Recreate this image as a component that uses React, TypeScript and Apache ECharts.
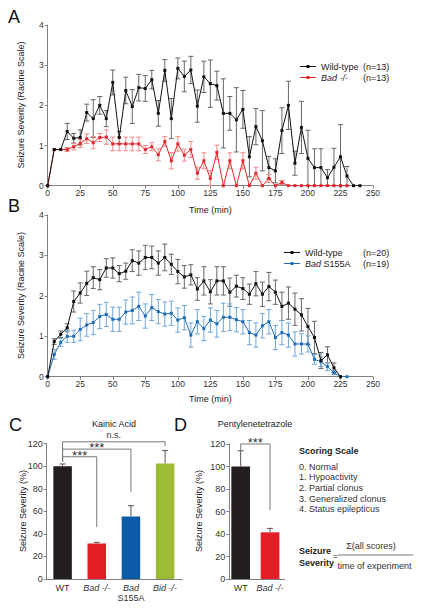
import React, { useEffect, useRef } from "react";
import * as echarts from "echarts";

const FONT = '"Liberation Sans", Arial, Helvetica, sans-serif';

// ---------- Panel A (Kainic acid time course) ----------
const timeA = [0, 5, 10, 15, 20, 25, 30, 35, 40, 45, 50, 55, 60, 65, 70, 75, 80, 85, 90, 95, 100, 105, 110, 115, 120, 125, 130, 135, 140, 145, 150, 155, 160, 165, 170, 175, 180, 185, 190, 195, 200, 205, 210, 215, 220, 225, 230, 235, 240];
const wtA = [0, 0.9, 0.9, 1.35, 1.18, 1.2, 1.82, 1.67, 2.0, 1.67, 2.57, 1.2, 2.37, 1.97, 2.44, 2.42, 2.64, 1.8, 2.87, 1.67, 2.92, 2.72, 2.88, 1.98, 2.71, 2.54, 2.49, 1.8, 1.8, 1.64, 1.9, 0.72, 1.47, 1.12, 0.45, 0.37, 1.37, 2.0, 0.56, 1.45, 0.68, 0.45, 0.45, 0.2, 0.46, 0.72, 0.24, 0, 0];
const wtAErr = [0, 0, 0, 0.2, 0.12, 0.19, 0.21, 0.47, 0.22, 0.2, 0.31, 0.15, 0.33, 0.42, 0.33, 0.32, 0.23, 0.32, 0.27, 0.5, 0.26, 0.38, 0.34, 0.4, 0.39, 0.59, 0.36, 0.86, 0.42, 0.8, 0.47, 0.5, 0.45, 0.75, 0.28, 0.3, 0.57, 0.6, 0.3, 0.65, 0.7, 0.47, 0.47, 0.2, 0.47, 0.8, 0.24, 0, 0];
const badA = [0, 0.9, 0.9, 0.9, 0.97, 1.05, 1.17, 1.07, 1.2, 1.21, 1.04, 1.04, 1.04, 1.04, 1.04, 0.9, 0.97, 0.77, 1.1, 0.62, 1.04, 0.76, 0.9, 0.31, 0.62, 0.18, 0.83, 0, 0.62, 0, 0.62, 0, 0.31, 0, 0.18, 0, 0.08, 0, 0, 0, 0, 0, 0, 0, 0, 0, 0];
const badAErr = [0, 0, 0, 0.05, 0.08, 0.1, 0.12, 0.15, 0.1, 0.18, 0.17, 0.17, 0.17, 0.17, 0.17, 0.1, 0.1, 0.15, 0.12, 0.2, 0.18, 0.15, 0.2, 0.15, 0.2, 0.2, 0.18, 0, 0.2, 0, 0.2, 0, 0.15, 0, 0.1, 0, 0.05, 0, 0, 0, 0, 0, 0, 0, 0, 0, 0];

// ---------- Panel B ----------
const timeB = [0, 5, 10, 15, 20, 25, 30, 35, 40, 45, 50, 55, 60, 65, 70, 75, 80, 85, 90, 95, 100, 105, 110, 115, 120, 125, 130, 135, 140, 145, 150, 155, 160, 165, 170, 175, 180, 185, 190, 195, 200, 205, 210, 215, 220, 225, 230];
const wtB = [0, 0.87, 1.05, 1.21, 1.86, 2.07, 2.31, 2.45, 2.4, 2.69, 2.69, 2.55, 2.61, 2.87, 2.81, 2.95, 2.95, 2.81, 2.95, 2.78, 2.6, 2.47, 2.52, 2.17, 2.37, 2.1, 2.37, 2.37, 2.09, 2.24, 2.18, 2.04, 2.3, 2.04, 2.23, 2.09, 1.74, 1.82, 1.67, 1.53, 1.24, 0.97, 0.4, 0.54, 0.22, 0];
const wtBErr = [0, 0.07, 0.08, 0.1, 0.26, 0.25, 0.3, 0.27, 0.25, 0.23, 0.25, 0.2, 0.2, 0.27, 0.3, 0.3, 0.28, 0.3, 0.33, 0.25, 0.3, 0.28, 0.25, 0.28, 0.35, 0.3, 0.35, 0.35, 0.35, 0.27, 0.27, 0.25, 0.3, 0.3, 0.35, 0.3, 0.35, 0.4, 0.4, 0.4, 0.45, 0.4, 0.2, 0.2, 0.12, 0];
const s155B = [0, 0.55, 0.85, 1.0, 1.0, 1.17, 1.28, 1.34, 1.49, 1.54, 1.42, 1.42, 1.6, 1.64, 1.74, 1.5, 1.71, 1.61, 1.55, 1.57, 1.4, 1.46, 1.03, 1.36, 1.19, 1.4, 1.31, 1.47, 1.47, 1.41, 1.36, 1.09, 1.03, 1.26, 1.36, 0.97, 1.09, 1.03, 0.81, 0.81, 0.81, 0.43, 0.37, 0.25, 0.1, 0, 0];
const s155BErr = [0, 0.12, 0.1, 0.15, 0.15, 0.28, 0.28, 0.3, 0.3, 0.3, 0.3, 0.3, 0.3, 0.33, 0.35, 0.3, 0.32, 0.3, 0.3, 0.3, 0.3, 0.3, 0.3, 0.3, 0.3, 0.3, 0.33, 0.35, 0.33, 0.3, 0.3, 0.3, 0.3, 0.3, 0.3, 0.3, 0.3, 0.3, 0.3, 0.25, 0.2, 0.12, 0.12, 0.1, 0.05, 0, 0];

// ---------- Panel C (Kainic acid, totals) ----------
const kaCats = ["WT", "Bad -/-", "Bad S155A", "Bid -/-"];
const kaValues = [100, 31.5, 55.5, 102.5];
const kaErr = [2, 1, 9.5, 11.5];
const kaColors = ["#231f20", "#e41e26", "#0a5aa8", "#9dbb34"];
// [from, to, bracket level, left end, right end]
const kaBrackets = [
  [0, 3, 121.7, 104, 118],
  [0, 2, 115.2, 104, 77],
  [0, 1, 108.4, 104, 46],
];
const kaBracketLabels = ["n.s.", "***", "***"];

// ---------- Panel D (PTZ) ----------
const ptzCats = ["WT", "Bad -/-"];
const ptzValues = [100, 41.5];
const ptzErr = [14, 3.5];
const ptzColors = ["#231f20", "#e41e26"];
const ptzBrackets = [[0, 1, 120, 114.5, 61]];
const ptzBracketLabels = ["***"];

const scoringScale = ["0. Normal", "1. Hypoactivity", "2. Partial clonus", "3. Generalized clonus", "4. Status epilepticus"];

const AXIS = "#808080";
const LABEL = "#333";
const LEGEND_ICON = "path://M0 3.5H6.5V2.5H9.5V3.5H16V4.5H9.5V5.5H6.5V4.5H0Z";

function errRender(color: string, upperOnly: boolean, cap: number) {
  return (params: any, api: any) => {
    const x = api.value(0);
    const y = api.value(1);
    const e = api.value(2);
    if (!e) return { type: "group", children: [] };
    const top = api.coord([x, y + e]);
    const bot = api.coord([x, upperOnly ? y : Math.max(0, y - e)]);
    const style = { stroke: color, lineWidth: 1 };
    const children: any[] = [
      { type: "line", shape: { x1: top[0], y1: top[1], x2: bot[0], y2: bot[1] }, style },
      { type: "line", shape: { x1: top[0] - cap, y1: top[1], x2: top[0] + cap, y2: top[1] }, style },
    ];
    if (!upperOnly) {
      children.push({ type: "line", shape: { x1: bot[0] - cap, y1: bot[1], x2: bot[0] + cap, y2: bot[1] }, style });
    }
    return { type: "group", children };
  };
}

function bracketRender(labels: string[]) {
  return (params: any, api: any) => {
    const x1 = api.value(0);
    const x2 = api.value(1);
    const lvl = api.value(2);
    const yl = api.value(3);
    const yr = api.value(4);
    const a = api.coord([x1, yl]);
    const b = api.coord([x1, lvl]);
    const c = api.coord([x2, lvl]);
    const d = api.coord([x2, yr]);
    const lab = labels[params.dataIndex];
    const star = lab === "***";
    return {
      type: "group",
      children: [
        {
          type: "polyline",
          shape: { points: [a, b, c, d] },
          style: { stroke: "#777", lineWidth: 1, fill: "none" },
        },
        {
          type: "text",
          style: {
            text: lab,
            x: (b[0] + c[0]) / 2,
            y: star ? b[1] - 1.5 : b[1] - 6.5,
            textAlign: "center",
            textVerticalAlign: "middle",
            fontFamily: FONT,
            fontSize: star ? 13 : 9,
            fill: "#333",
          },
        },
      ],
    };
  };
}

function timeXAxis(gridIndex: number, nameGap: number) {
  return {
    type: "value",
    gridIndex,
    min: 0,
    max: 250,
    interval: 25,
    name: "Time (min)",
    nameLocation: "middle",
    nameGap,
    nameTextStyle: { fontFamily: FONT, fontSize: 9, color: "#222" },
    axisLine: { show: true, onZero: false, lineStyle: { color: AXIS, width: 1 } },
    axisTick: { show: true, length: 3, lineStyle: { color: AXIS } },
    axisLabel: { fontFamily: FONT, fontSize: 8.5, color: LABEL, margin: 3 },
    splitLine: { show: false },
  };
}

function racineYAxis(gridIndex: number) {
  return {
    type: "value",
    gridIndex,
    min: 0,
    max: 4,
    interval: 1,
    axisLine: { show: true, lineStyle: { color: AXIS, width: 1 } },
    axisTick: { show: true, length: 3, lineStyle: { color: AXIS } },
    axisLabel: { fontFamily: FONT, fontSize: 8.5, color: LABEL, margin: 4 },
    splitLine: { show: false },
  };
}

function pctYAxis(gridIndex: number, offset: number) {
  return {
    type: "value",
    gridIndex,
    min: 0,
    max: 120,
    interval: 20,
    offset,
    axisLine: { show: true, lineStyle: { color: AXIS, width: 1 } },
    axisTick: { show: true, length: 3, lineStyle: { color: AXIS } },
    axisLabel: { fontFamily: FONT, fontSize: 9, color: LABEL, margin: 4 },
    splitLine: { show: false },
  };
}

const catRich = {
  n: { fontFamily: FONT, fontSize: 9, color: LABEL, lineHeight: 10 },
  i: { fontFamily: FONT, fontSize: 9, color: LABEL, fontStyle: "italic", lineHeight: 10 },
};
function catFormatter(v: string) {
  if (v === "WT") return "{n|WT}";
  if (v === "Bad S155A") return "{i|Bad}\n{n|S155A}";
  return "{i|" + v + "}";
}

function catXAxis(gridIndex: number, data: string[]) {
  return {
    type: "category",
    gridIndex,
    data,
    axisLine: { show: true, lineStyle: { color: AXIS, width: 1 } },
    axisTick: { show: false },
    axisLabel: { formatter: catFormatter, rich: catRich, margin: 4, interval: 0 },
    splitLine: { show: false },
  };
}

function textG(text: string, x: number, y: number, opts: any = {}) {
  return {
    type: "text",
    x,
    y,
    rotation: opts.rotation || 0,
    style: {
      text,
      fontFamily: FONT,
      fontSize: opts.fontSize || 9,
      fontWeight: opts.fontWeight || "normal",
      fill: opts.fill || "#222",
      textAlign: opts.align || "left",
      textVerticalAlign: "middle",
    },
  };
}

export default function App() {
  const ref = useRef<HTMLDivElement>(null);
  useEffect(() => {
    if (!ref.current) return;
    const chart = echarts.init(ref.current, undefined, { renderer: "svg" });

    const richBase = { fontFamily: FONT, fontSize: 9, color: "#222" };
    const legendCommon = {
      orient: "vertical",
      itemWidth: 16,
      itemHeight: 3,
      itemGap: 0,
      icon: LEGEND_ICON,
      itemStyle: { borderWidth: 0 },
      selectedMode: false,
    };

    const option: any = {
      animation: false,
      backgroundColor: "#ffffff",
      grid: [
        { left: 47.7, top: 25, width: 325.3, height: 160.7, outerBoundsMode: "none" },
        { left: 47.7, top: 215, width: 325.3, height: 161.7, outerBoundsMode: "none" },
        { left: 45.5, top: 443.7, width: 136.7, height: 135.3, outerBoundsMode: "none" },
        { left: 226, top: 444, width: 58.7, height: 135, outerBoundsMode: "none" },
      ],
      xAxis: [timeXAxis(0, 20), timeXAxis(1, 18), catXAxis(2, kaCats), catXAxis(3, ptzCats)],
      yAxis: [racineYAxis(0), racineYAxis(1), pctYAxis(2, -1.2), pctYAxis(3, -3.3)],
      legend: [
        {
          ...legendCommon,
          data: ["Wild-type", "Bad -/-"],
          left: 295,
          top: 56,
          textStyle: {
            ...richBase,
            lineHeight: 11,
            rich: {
              a: { ...richBase, width: 42 },
              ai: { ...richBase, width: 42, fontStyle: "italic" },
              b: { ...richBase },
            },
          },
          formatter: (name: string) =>
            name === "Wild-type" ? "{a|Wild-type}{b|(n=13)}" : "{ai|Bad -/-}{b|(n=13)}",
        },
        {
          ...legendCommon,
          data: ["Wild-type", "Bad S155A"],
          left: 279,
          top: 242,
          textStyle: {
            ...richBase,
            lineHeight: 11,
            rich: {
              a: { ...richBase, width: 58 },
              bi: { ...richBase, width: 16, fontStyle: "italic" },
              s: { ...richBase, width: 42 },
              b: { ...richBase },
            },
          },
          formatter: (name: string) =>
            name === "Wild-type" ? "{a|Wild-type}{b|(n=20)}" : "{bi|Bad}{s| S155A}{b|(n=19)}",
        },
      ],
      series: [
        // Panel A error bars
        {
          type: "custom",
          name: "errA-wt",
          xAxisIndex: 0,
          yAxisIndex: 0,
          z: 1,
          renderItem: errRender("#666666", false, 2.5),
          data: wtA.map((v, i) => [timeA[i], v, wtAErr[i]]),
        },
        {
          type: "custom",
          name: "errA-bad",
          xAxisIndex: 0,
          yAxisIndex: 0,
          z: 1,
          renderItem: errRender("#ef8a8a", false, 2.5),
          data: badA.map((v, i) => [timeA[i], v, badAErr[i]]),
        },
        {
          type: "line",
          name: "Wild-type",
          xAxisIndex: 0,
          yAxisIndex: 0,
          z: 3,
          data: wtA.map((v, i) => [timeA[i], v]),
          symbol: "rect",
          symbolSize: 3,
          color: "#111111",
          lineStyle: { width: 1, color: "#111111" },
          itemStyle: { color: "#111111" },
        },
        {
          type: "line",
          name: "Bad -/-",
          xAxisIndex: 0,
          yAxisIndex: 0,
          z: 2,
          data: badA.map((v, i) => [timeA[i], v]),
          symbol: "rect",
          symbolSize: 3,
          color: "#e5262c",
          lineStyle: { width: 1, color: "#e5262c" },
          itemStyle: { color: "#e5262c" },
        },
        // Panel B
        {
          type: "custom",
          name: "errB-wt",
          xAxisIndex: 1,
          yAxisIndex: 1,
          z: 1,
          renderItem: errRender("#666666", false, 2.5),
          data: wtB.map((v, i) => [timeB[i], v, wtBErr[i]]),
        },
        {
          type: "custom",
          name: "errB-s155",
          xAxisIndex: 1,
          yAxisIndex: 1,
          z: 1,
          renderItem: errRender("#6ea5d8", false, 2.5),
          data: s155B.map((v, i) => [timeB[i], v, s155BErr[i]]),
        },
        {
          type: "line",
          name: "Wild-type",
          xAxisIndex: 1,
          yAxisIndex: 1,
          z: 3,
          data: wtB.map((v, i) => [timeB[i], v]),
          symbol: "rect",
          symbolSize: 3,
          color: "#111111",
          lineStyle: { width: 1, color: "#111111" },
          itemStyle: { color: "#111111" },
        },
        {
          type: "line",
          name: "Bad S155A",
          xAxisIndex: 1,
          yAxisIndex: 1,
          z: 2,
          data: s155B.map((v, i) => [timeB[i], v]),
          symbol: "rect",
          symbolSize: 3,
          color: "#1f6db5",
          lineStyle: { width: 1, color: "#1f6db5" },
          itemStyle: { color: "#1f6db5" },
        },
        // Panel C
        {
          type: "bar",
          name: "Kainic Acid",
          xAxisIndex: 2,
          yAxisIndex: 2,
          barWidth: 18.5,
          data: kaValues.map((v, i) => ({ value: v, itemStyle: { color: kaColors[i] } })),
        },
        {
          type: "custom",
          name: "errC",
          xAxisIndex: 2,
          yAxisIndex: 2,
          z: 3,
          renderItem: errRender("#555555", true, 3),
          data: kaValues.map((v, i) => [i, v, kaErr[i]]),
        },
        {
          type: "custom",
          name: "bracketsC",
          xAxisIndex: 2,
          yAxisIndex: 2,
          z: 4,
          clip: false,
          encode: { x: 0, y: 2 },
          renderItem: bracketRender(kaBracketLabels),
          data: kaBrackets,
        },
        // Panel D
        {
          type: "bar",
          name: "Pentylenetetrazole",
          xAxisIndex: 3,
          yAxisIndex: 3,
          barWidth: 18.7,
          data: ptzValues.map((v, i) => ({ value: v, itemStyle: { color: ptzColors[i] } })),
        },
        {
          type: "custom",
          name: "errD",
          xAxisIndex: 3,
          yAxisIndex: 3,
          z: 3,
          renderItem: errRender("#555555", true, 3),
          data: ptzValues.map((v, i) => [i, v, ptzErr[i]]),
        },
        {
          type: "custom",
          name: "bracketsD",
          xAxisIndex: 3,
          yAxisIndex: 3,
          z: 4,
          clip: false,
          encode: { x: 0, y: 2 },
          renderItem: bracketRender(ptzBracketLabels),
          data: ptzBrackets,
        },
      ],
      graphic: [
        textG("A", 8, 16.7, { fontSize: 18, fill: "#111" }),
        textG("B", 8, 206, { fontSize: 18, fill: "#111" }),
        textG("C", 9, 425, { fontSize: 18, fill: "#111" }),
        textG("D", 174, 425, { fontSize: 18, fill: "#111" }),
        textG("Seizure Severity (Racine Scale)", 21, 105, { align: "center", rotation: Math.PI / 2 }),
        textG("Seizure Severity (Racine Scale)", 21, 295.5, { align: "center", rotation: Math.PI / 2 }),
        textG("Seizure Severity (%)", 22.5, 511, { align: "center", rotation: Math.PI / 2 }),
        textG("Seizure Severity (%)", 199, 511, { align: "center", rotation: Math.PI / 2 }),
        textG("Kainic Acid", 114, 424, { align: "center" }),
        textG("Pentylenetetrazole", 255, 424, { align: "center" }),
        textG("Scoring Scale", 299, 450.7, { fontWeight: "bold" }),
        ...scoringScale.map((s, i) => textG(s, 299, 466.7 + i * 10.65, { fill: "#333" })),
        textG("Seizure", 299, 550.7, { fontWeight: "bold" }),
        textG("Severity", 299, 562.7, { fontWeight: "bold" }),
        textG("=", 335.3, 555.5, { align: "center", fill: "#333" }),
        textG("Σ(all scores)", 371, 545.7, { align: "center", fill: "#333" }),
        {
          type: "line",
          shape: { x1: 338.3, y1: 555, x2: 413.3, y2: 555 },
          style: { stroke: "#555", lineWidth: 0.8 },
        },
        textG("time of experiment", 374.5, 565.7, { align: "center", fill: "#333" }),
      ],
    };

    chart.setOption(option);
    return () => {
      chart.dispose();
    };
  }, []);

  return (
    <div
      ref={ref}
      style={{ position: "fixed", left: 0, top: 0, width: 423, height: 609, background: "#fff" }}
    />
  );
}
